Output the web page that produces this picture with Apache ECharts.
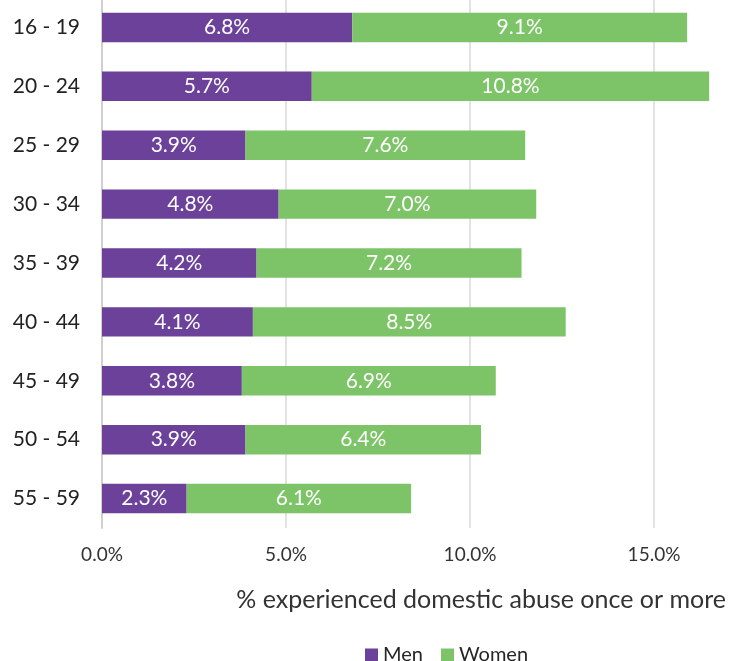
<!DOCTYPE html>
<html>
<head>
<meta charset="utf-8">
<script src="https://cdn.jsdelivr.net/npm/echarts@6/dist/echarts.min.js"></script>
<style>
  html, body { margin: 0; padding: 0; background: #fff; }
  #chart { width: 734px; height: 661px; }
</style>
</head>
<body>
<div id="chart"></div>
<script>
// Age groups, listed top to bottom
const ageGroups = ['16 - 19', '20 - 24', '25 - 29', '30 - 34', '35 - 39', '40 - 44', '45 - 49', '50 - 54', '55 - 59'];
// Share (%) who experienced domestic abuse once or more
const menValues = [6.8, 5.7, 3.9, 4.8, 4.2, 4.1, 3.8, 3.9, 2.3];
const womenValues = [9.1, 10.8, 7.6, 7.0, 7.2, 8.5, 6.9, 6.4, 6.1];
const seriesNames = ['Men', 'Women'];
const axisTitle = '% experienced domestic abuse once or more';
// Highest tick that carries a label on screen
const lastShownTick = 15;

const FONT = 'Lato, "DejaVu Sans", sans-serif';
const chart = echarts.init(document.getElementById('chart'), null, { renderer: 'canvas' });

const barLabel = {
  show: true,
  position: 'inside',
  color: '#ffffff',
  fontFamily: FONT,
  fontSize: 21,
  formatter: p => p.value.toFixed(1) + '%'
};

chart.setOption({
  animation: false,
  textStyle: { fontFamily: FONT },
  title: {
    text: axisTitle,
    right: 3,
    top: 582,
    textStyle: { fontFamily: FONT, fontSize: 25, fontWeight: 'normal', color: '#333333' }
  },
  legend: {
    data: seriesNames,
    left: 360,
    top: 640,
    itemWidth: 13,
    itemHeight: 13,
    itemGap: 18,
    icon: 'rect',
    textStyle: { fontFamily: FONT, fontSize: 20, color: '#262626' }
  },
  // the value axis runs on past the right edge of the page
  grid: { left: 102, right: -104, top: -2, height: 530, outerBoundsMode: 'none', containLabel: false },
  xAxis: {
    type: 'value',
    min: 0,
    max: 20,
    interval: 5,
    axisLine: { show: false },
    axisTick: { show: false },
    splitLine: { show: true, lineStyle: { color: '#d9d9d9', width: 1.5 } },
    axisLabel: {
      margin: 17,
      fontFamily: FONT,
      fontSize: 19,
      color: '#333333',
      formatter: v => (v > lastShownTick ? '' : v.toFixed(1) + '%')
    }
  },
  yAxis: {
    type: 'category',
    data: ageGroups,
    inverse: true,
    axisLine: { show: true, lineStyle: { color: '#d0d0d0', width: 2 } },
    axisTick: { show: false },
    axisLabel: { margin: 22, fontFamily: FONT, fontSize: 21, color: '#222222' }
  },
  series: [
    {
      name: seriesNames[0],
      type: 'bar',
      stack: 'total',
      data: menValues,
      barWidth: '50%',
      itemStyle: { color: '#6b4199' },
      label: barLabel
    },
    {
      name: seriesNames[1],
      type: 'bar',
      stack: 'total',
      data: womenValues,
      barWidth: '50%',
      itemStyle: { color: '#7dc468' },
      label: barLabel
    }
  ]
});
</script>
</body>
</html>
